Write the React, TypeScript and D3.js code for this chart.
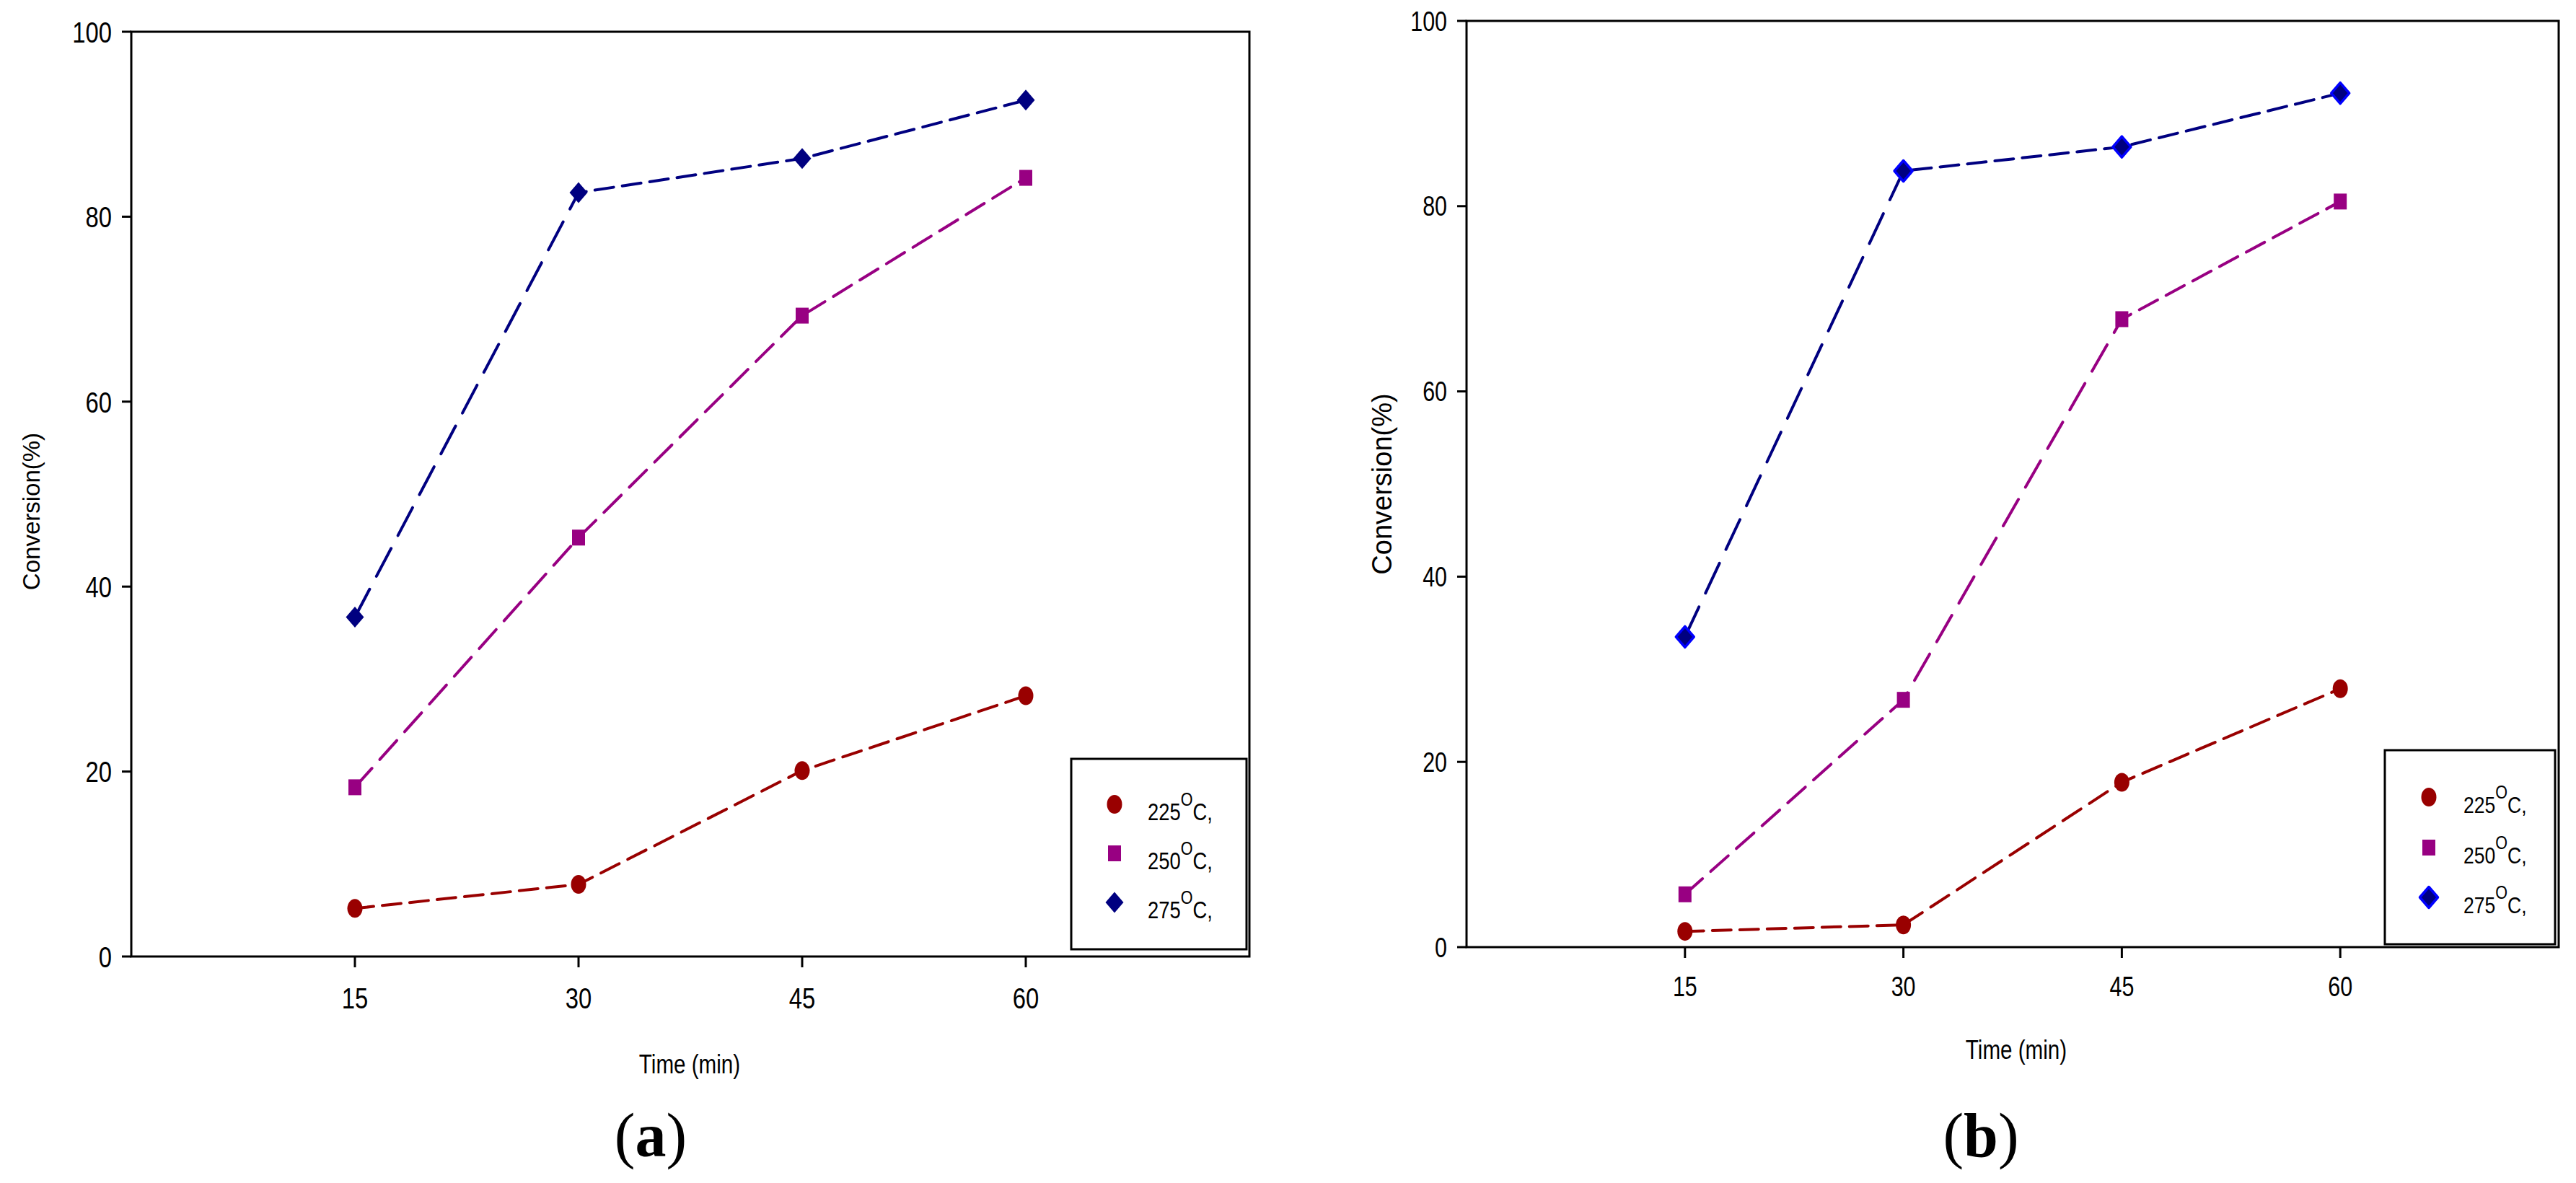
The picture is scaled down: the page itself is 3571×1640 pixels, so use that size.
import React from "react";
import * as d3 from "d3";

// ── Data ─────────────────────────────────────────────────────────────────────
const times = [15, 30, 45, 60];
const xTicks = [15, 30, 45, 60];
const yTicks = [0, 20, 40, 60, 80, 100];
const seriesNames = ["225", "250", "275"];

// panel (a)
const a225 = [5.2, 7.8, 20.1, 28.2];
const a250 = [18.3, 45.3, 69.3, 84.2];
const a275 = [36.7, 82.6, 86.3, 92.6];

// panel (b)
const b225 = [1.7, 2.4, 17.8, 27.9];
const b250 = [5.7, 26.7, 67.8, 80.5];
const b275 = [33.5, 83.8, 86.4, 92.2];

const RED = "#990000";
const PURPLE = "#980082";
const NAVY = "#000080";
const BLUE = "#0000FF";

const SANS = "'Liberation Sans', Arial, sans-serif";
const SERIF = "'Liberation Serif', 'Times New Roman', serif";
const SQUEEZE = 0.8; // the source figure's text is horizontally compressed

// The original figure was stretched vertically after plotting, so dashes on
// steep segments come out longer. Lay dashes out in the un-stretched space.
const STRETCH = 2.4;
const DASH = 26;
const GAP = 12;

function dashPieces(pts: [number, number][]) {
  const out: [number, number, number, number][] = [];
  const period = DASH + GAP;
  let phase = 0;
  for (let i = 0; i < pts.length - 1; i++) {
    const [x0, y0] = pts[i];
    const [x1, y1] = pts[i + 1];
    const L = Math.hypot(x1 - x0, (y1 - y0) / STRETCH);
    let s = 0;
    while (s < L - 1e-6) {
      if (phase < DASH) {
        const e = Math.min(L, s + (DASH - phase));
        const t0 = s / L, t1 = e / L;
        out.push([x0 + (x1 - x0) * t0, y0 + (y1 - y0) * t0, x0 + (x1 - x0) * t1, y0 + (y1 - y0) * t1]);
        phase += e - s;
        s = e;
      } else {
        const e = Math.min(L, s + (period - phase));
        phase += e - s;
        s = e;
      }
      if (phase >= period - 1e-6) phase = 0;
    }
  }
  return out;
}

interface PanelCfg {
  left: number; right: number; top: number; bottom: number;
  tickFont: number; xLabelDy: number;
  yLabelX: number; yLabelY: number; yLabelFont: number;
  titleX: number; titleY: number;
  tag: string; tagX: number;
  legend: { x0: number; y0: number; x1: number; y1: number; mx: number; my: number[]; tx: number; font: number };
  diamondFill: string; diamondStroke: string;
  values: number[][];
}

const colors = [RED, PURPLE, NAVY];

function Marker({ kind, x, y, fill, stroke }: { kind: number; x: number; y: number; fill: string; stroke?: string }) {
  if (kind === 0) return <ellipse cx={x} cy={y} rx={10.5} ry={13} fill={fill} />;
  if (kind === 1) return <rect x={x - 9} y={y - 11} width={18} height={22} fill={fill} />;
  const w = 12.5, h = 14.5;
  return (
    <path
      d={`M${x},${y - h}L${x + w},${y}L${x},${y + h}L${x - w},${y}Z`}
      fill={fill}
      stroke={stroke ?? "none"}
      strokeWidth={stroke ? 3.5 : 0}
      strokeLinejoin="round"
    />
  );
}

function Panel({ c }: { c: PanelCfg }) {
  const x = d3.scaleLinear().domain([0, 75]).range([c.left, c.right]);
  const y = d3.scaleLinear().domain([0, 100]).range([c.bottom, c.top]);

  return (
    <g>
      {/* dashed lines */}
      {c.values.map((vals, si) => {
        const pts = vals.map((v, i) => [x(times[i]), y(v)] as [number, number]);
        return (
          <g key={"l" + si} stroke={colors[si]} strokeWidth={4} strokeLinecap="round">
            {dashPieces(pts).map((p, j) => (
              <line key={j} x1={p[0]} y1={p[1]} x2={p[2]} y2={p[3]} />
            ))}
          </g>
        );
      })}
      {/* markers */}
      {c.values.map((vals, si) =>
        vals.map((v, i) => (
          <Marker
            key={`m${si}-${i}`}
            kind={si}
            x={x(times[i])}
            y={y(v)}
            fill={si === 2 ? c.diamondFill : colors[si]}
            stroke={si === 2 && c.diamondStroke !== c.diamondFill ? c.diamondStroke : undefined}
          />
        ))
      )}

      {/* frame */}
      <rect x={c.left} y={c.top} width={c.right - c.left} height={c.bottom - c.top}
        fill="none" stroke="#000" strokeWidth={3} />

      {/* y ticks */}
      {yTicks.map((t) => (
        <g key={"y" + t}>
          <line x1={c.left - 13} x2={c.left} y1={y(t)} y2={y(t)} stroke="#000" strokeWidth={3} />
          <text
            transform={`translate(${c.left - 27},${y(t) + c.tickFont * 0.36}) scale(${SQUEEZE},1)`}
            textAnchor="end" fontFamily={SANS} fontSize={c.tickFont} fill="#000"
          >{t}</text>
        </g>
      ))}

      {/* x ticks */}
      {xTicks.map((t) => (
        <g key={"x" + t}>
          <line x1={x(t)} x2={x(t)} y1={c.bottom} y2={c.bottom + 15} stroke="#000" strokeWidth={3} />
          <text
            transform={`translate(${x(t)},${c.bottom + c.xLabelDy}) scale(${SQUEEZE},1)`}
            textAnchor="middle" fontFamily={SANS} fontSize={c.tickFont} fill="#000"
          >{t}</text>
        </g>
      ))}

      {/* axis titles */}
      <text
        transform={`translate(${c.yLabelX},${c.yLabelY}) rotate(-90)`}
        textAnchor="middle" fontFamily={SANS} fontSize={c.yLabelFont} fill="#000"
      >Conversion(%)</text>
      <text
        transform={`translate(${c.titleX},${c.titleY}) scale(${SQUEEZE},1)`}
        textAnchor="middle" fontFamily={SANS} fontSize={37} fill="#000"
      >Time (min)</text>

      {/* panel tag */}
      <text x={c.tagX} y={1603} textAnchor="middle" fontFamily={SERIF} fontSize={86} fill="#000">
        (<tspan fontWeight="bold">{c.tag}</tspan>)
      </text>

      {/* legend */}
      <rect x={c.legend.x0} y={c.legend.y0} width={c.legend.x1 - c.legend.x0} height={c.legend.y1 - c.legend.y0}
        fill="#fff" stroke="#000" strokeWidth={3} />
      {seriesNames.map((name, si) => (
        <g key={"lg" + si}>
          <Marker
            kind={si}
            x={c.legend.mx}
            y={c.legend.my[si]}
            fill={si === 2 ? c.diamondFill : colors[si]}
            stroke={si === 2 && c.diamondStroke !== c.diamondFill ? c.diamondStroke : undefined}
          />
          <text
            transform={`translate(${c.legend.tx},${c.legend.my[si] + 22}) scale(${SQUEEZE + 0.03},1)`}
            fontFamily={SANS} fontSize={c.legend.font} fill="#000"
          >
            {name}
            <tspan fontSize={26} dy={-20}>O</tspan>
            <tspan dy={20}>C,</tspan>
          </text>
        </g>
      ))}
    </g>
  );
}

const panelA: PanelCfg = {
  left: 182, right: 1732, top: 44, bottom: 1326,
  tickFont: 41, xLabelDy: 72,
  yLabelX: 55, yLabelY: 709, yLabelFont: 33,
  titleX: 956, titleY: 1488,
  tag: "a", tagX: 902,
  legend: { x0: 1485, y0: 1052, x1: 1728, y1: 1316, mx: 1545, my: [1115, 1183, 1251], tx: 1591, font: 33 },
  diamondFill: NAVY, diamondStroke: NAVY,
  values: [a225, a250, a275],
};

const panelB: PanelCfg = {
  left: 2033, right: 3547, top: 29, bottom: 1313,
  tickFont: 38, xLabelDy: 68,
  yLabelX: 1929, yLabelY: 671, yLabelFont: 38,
  titleX: 2795, titleY: 1468,
  tag: "b", tagX: 2746,
  legend: { x0: 3306, y0: 1040, x1: 3542, y1: 1309, mx: 3367, my: [1105, 1175, 1244], tx: 3415, font: 32 },
  diamondFill: NAVY, diamondStroke: BLUE,
  values: [b225, b250, b275],
};

export default function App() {
  return (
    <svg
      width={3571}
      height={1640}
      style={{ position: "absolute", left: 0, top: 0, background: "#fff" }}
    >
      <rect width={3571} height={1640} fill="#fff" />
      <Panel c={panelA} />
      <Panel c={panelB} />
    </svg>
  );
}
